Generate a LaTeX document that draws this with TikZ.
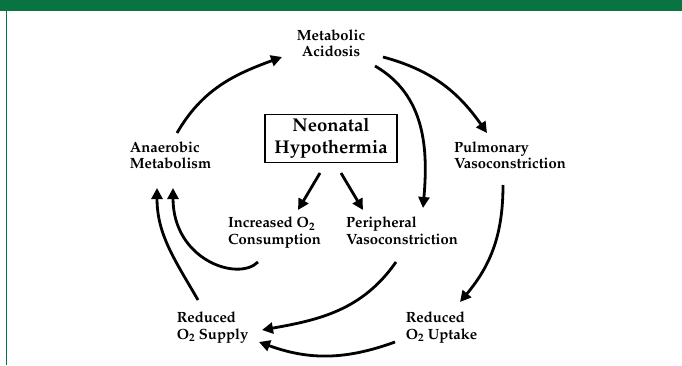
\documentclass[tikz,border=0pt]{standalone}
\usepackage[T1]{fontenc}
\usepackage{mathpazo}
\usepackage{xcolor}
\usepackage{tikz}
\usetikzlibrary{arrows.meta}
\definecolor{bargreen}{RGB}{8,116,66}

\begin{document}
\begin{tikzpicture}[
  x=1pt, y=1pt,
  font=\fontsize{14.8}{16.5}\selectfont\bfseries,
  lbl/.style={align=left, inner sep=1pt},
  box/.style={draw, line width=1.7pt, minimum width=132pt, minimum height=48pt, align=center, inner sep=2pt,
    font=\fontsize{18.5}{22}\selectfont\bfseries},
  arr/.style={-{Triangle[length=11pt,width=11pt]}, line width=2.8pt}
]
\useasboundingbox (0,0) rectangle (682,365);
\fill[white] (0,0) rectangle (682,365);
\fill[bargreen] (0,354) rectangle (682,365);
\fill[bargreen] (5.5,0) rectangle (7,365);

\node[lbl, align=center] (acid) at (331,321.8) {Metabolic\\Acidosis};
\node[lbl] (anaer) at (170.5,209.8) {Anaerobic\\Metabolism};
\node[box] (hypo) at (331,226.5) {Neonatal\\Hypothermia};
\node[lbl] (pulm) at (510,209.8) {Pulmonary\\Vasoconstriction};
\node[lbl] (incr) at (274.5,132.3) {Increased O\textsubscript{2}\\Consumption};
\node[lbl] (peri) at (402,134.3) {Peripheral\\Vasoconstriction};
\node[lbl] (supply) at (212.5,37.3) {Reduced\\O\textsubscript{2} Supply};
\node[lbl] (uptake) at (441.5,37.3) {Reduced\\O\textsubscript{2} Uptake};

\draw[arr] ([shift={(6.5,22.2)}]anaer.center) to[out=60, in=200] ([shift={(-49,-13.8)}]acid.center);
\draw[arr] ([shift={(52,-13.8)}]acid.center) to[out=-15, in=125] ([shift={(-23,22.2)}]pulm.center);
\draw[arr] ([shift={(44,-22.8)}]acid.center) to[out=-30, in=85] ([shift={(21,22.7)}]peri.center);
\draw[arr] ([shift={(-11,-34.5)}]hypo.center) -- ([shift={(23.5,22.7)}]incr.center);
\draw[arr] ([shift={(10,-34.5)}]hypo.center) -- ([shift={(-39,20.7)}]peri.center);
\draw[arr] ([shift={(-7,-29.8)}]pulm.center) to[out=-90, in=50] ([shift={(18.5,25.7)}]uptake.center);
\draw[arr] ([shift={(-6,-31.3)}]peri.center) to[out=-125, in=10] ([shift={(49.5,-2.3)}]supply.center);
\draw[arr] ([shift={(-46.5,-14.3)}]uptake.center) to[out=200, in=-20] ([shift={(46.5,-14.3)}]supply.center);
\draw[arr] ([shift={(-14.5,27.7)}]supply.center) to[out=120, in=-90] ([shift={(-13.5,-32.8)}]anaer.center);
\draw[arr] ([shift={(-16.5,-29.3)}]incr.center) .. controls +(-20,-20) and +(0,-72) .. ([shift={(2.5,-32.8)}]anaer.center);
\end{tikzpicture}
\end{document}
